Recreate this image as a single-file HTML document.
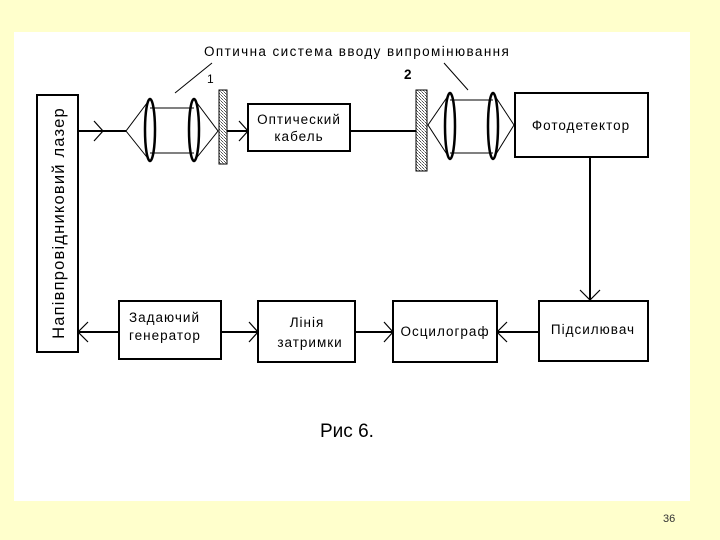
<!DOCTYPE html>
<html><head><meta charset="utf-8"><style>
body{margin:0;background:#FFFFCC;}
svg{display:block}
text{font-family:"Liberation Sans","DejaVu Sans",sans-serif;}
</style></head><body>
<svg width="720" height="540" viewBox="0 0 720 540">
<defs>
<pattern id="h" width="3" height="3" patternUnits="userSpaceOnUse">
<rect width="3" height="3" fill="#fff"/><rect width="1" height="1" fill="#555"/><rect x="2" y="2" width="1" height="1" fill="#555"/><rect x="1" y="1" width="1" height="1" fill="#999"/>
</pattern>
</defs>
<rect width="720" height="540" fill="#FFFFCC"/>
<rect x="14" y="32" width="676" height="469" fill="#fff"/>
<g stroke="#000" fill="none" stroke-width="2">
<rect x="37" y="95" width="41" height="257"/>
<rect x="248" y="104" width="102" height="47"/>
<rect x="515" y="93" width="133" height="64"/>
<rect x="119" y="301" width="102" height="58"/>
<rect x="258" y="301" width="97" height="61"/>
<rect x="393" y="301" width="104" height="61"/>
<rect x="539" y="301" width="109" height="60"/>
<line x1="78" y1="131" x2="126" y2="131"/>
<polyline points="94,121 103,131 94,141" stroke-width="1.2"/>
<line x1="227" y1="131" x2="248" y2="131"/>
<polyline points="239,121 248,131 239,141" stroke-width="1.2"/>
<line x1="350" y1="131" x2="416" y2="131"/>
<line x1="590" y1="157" x2="590" y2="300"/>
<polyline points="580,290 590,300 600,290" stroke-width="1.2"/>
<line x1="78" y1="332" x2="119" y2="332"/>
<polyline points="88,322 78,332 88,342" stroke-width="1.2"/>
<line x1="221" y1="332" x2="258" y2="332"/>
<polyline points="249,322 258,332 249,342" stroke-width="1.2"/>
<line x1="355" y1="332" x2="393" y2="332"/>
<polyline points="384,322 393,332 384,342" stroke-width="1.2"/>
<line x1="497" y1="332" x2="539" y2="332"/>
<polyline points="507,322 497,332 507,342" stroke-width="1.2"/>
</g>
<g stroke="#000" fill="none" stroke-width="1">
<polyline points="150,99 126,131 150,161"/>
<line x1="150" y1="108" x2="194" y2="108"/><line x1="150" y1="153" x2="194" y2="153"/>
<polyline points="194,99 218,131 194,161"/>
<polyline points="450,93 428,125 450,159"/>
<line x1="450" y1="100" x2="493" y2="100"/><line x1="450" y1="153" x2="493" y2="153"/>
<polyline points="493,93 514,125 493,159"/>
<line x1="175" y1="93" x2="212" y2="63"/>
<line x1="444" y1="63" x2="468" y2="90"/>
</g>
<g stroke="#000" fill="none" stroke-width="2.5">
<ellipse cx="150" cy="130" rx="5" ry="31"/>
<ellipse cx="194" cy="130" rx="5" ry="31"/>
<ellipse cx="450" cy="126" rx="5" ry="33"/>
<ellipse cx="493" cy="126" rx="5" ry="33"/>
</g>
<rect x="219" y="90" width="8" height="74" fill="url(#h)" stroke="#000" stroke-width="1"/>
<rect x="416" y="90" width="11" height="81" fill="url(#h)" stroke="#000" stroke-width="1"/>
<g font-size="13.5" fill="#000" letter-spacing="1">
<text x="204" y="56" letter-spacing="1.4">Оптична система вводу випромінювання</text>
<text x="207" y="83" font-size="12">1</text>
<text x="404" y="79" font-weight="bold">2</text>
<text x="299" y="124" text-anchor="middle">Оптический</text>
<text x="299" y="141" text-anchor="middle">кабель</text>
<text x="581" y="130" text-anchor="middle">Фотодетектор</text>
<text x="129" y="322">Задаючий</text>
<text x="129" y="340">генератор</text>
<text x="307" y="327" text-anchor="middle">Лінія</text>
<text x="310" y="347" text-anchor="middle">затримки</text>
<text x="445" y="336" text-anchor="middle">Осцилограф</text>
<text x="593" y="334" text-anchor="middle">Підсилювач</text>
<text transform="translate(64,223) rotate(-90)" text-anchor="middle" font-size="16.5" letter-spacing="1.2">Напівпровідниковий лазер</text>
</g>
<text x="320" y="437" font-size="19" fill="#000">Рис 6.</text>
<text x="663" y="522" font-size="11" fill="#333">36</text>
</svg>
</body></html>
